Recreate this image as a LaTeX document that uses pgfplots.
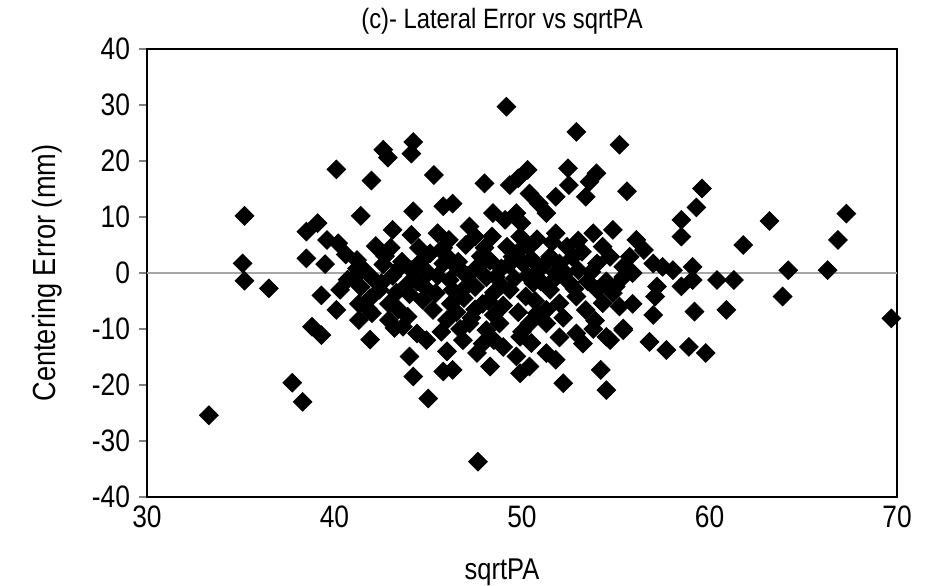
\documentclass[border=0pt]{standalone}
\usepackage{fontspec}
\setmainfont{Liberation Sans}[FakeStretch=0.85]
\usepackage{pgfplots}
\pgfplotsset{compat=1.18}
\begin{document}
\begin{tikzpicture}
\begin{axis}[
  name=ax,
  scale only axis,
  width=375pt, height=224pt,
  xmin=30, xmax=70, ymin=-40, ymax=40,
  xtick={30,40,...,70}, ytick={-40,-30,...,40},
  /pgf/number format/assume math mode=true,
  tick label style={font=\fontsize{15.5}{16}\selectfont},
  xtick style={draw=none},
  ytick align=outside, ytick pos=left,
  major tick length=4pt,
  ytick style={gray, line width=0.6pt},
  xticklabel style={yshift=-1pt},
  yticklabel style={xshift=-1pt},
  axis line style={line width=1.3pt, black},
  clip=false,
]
\draw[gray!70, line width=0.7pt] (axis cs:30,0) -- (axis cs:70,0);
\addplot[only marks, mark=square*, mark size=3.3pt, mark options={rotate=45, fill=black, draw=black}] table {
x y
33.3 -25.4
35.2 10.2
35.1 1.7
35.2 -1.4
36.5 -2.75
37.75 -19.6
38.3 -23.0
38.8 -9.6
39.3 -11.1
39.3 -4.0
40.1 -6.6
41.9 -11.9
41.3 -8.4
40.1 18.5
41.97 16.5
41.4 10.2
42.6 22.0
42.85 20.6
44.2 23.4
44.1 21.3
45.3 17.5
44.2 11.0
45.8 11.9
46.3 12.4
38.5 7.4
39.1 8.9
38.5 2.6
39.5 1.6
39.6 5.9
40.2 5.3
40.6 3.3
43.1 7.7
44.1 6.8
45.5 7.1
46.1 5.9
41.2 2.3
40.7 -1.2
40.3 -3.0
42.0 -7.2
42.9 -8.4
43.65 -9.6
44.4 -10.8
44.9 -12.0
44.0 -14.9
44.2 -18.5
45.8 -17.6
45.0 -22.4
45.1 3.5
45.8 1.7
46.15 -1.25
45.4 -3.6
44.7 -4.8
45.25 -6.6
46.0 -8.4
43.9 -7.8
42.1 -1.2
41.6 0.5
42.6 1.5
43.1 -0.5
42.4 -3.0
41.9 -4.5
43.3 -3.5
42.9 -5.5
41.4 -2.5
43.6 2.0
44.1 0.5
41.0 -1.0
41.2 0.8
43.9 -2.0
42.7 3.0
41.3 -5.5
44.4 -1.5
43.0 4.5
42.2 4.8
49.17 29.7
52.9 25.2
55.2 22.9
48.0 16.0
49.35 15.7
49.8 16.9
50.3 18.4
50.4 14.2
50.9 12.4
51.3 10.7
51.8 13.6
52.45 18.7
52.5 15.7
53.97 17.8
53.6 16.3
53.4 13.6
47.2 8.3
48.45 10.7
49.1 9.5
49.7 10.7
49.97 8.9
48.4 6.5
49.2 4.7
49.9 6.5
50.4 4.7
49.5 2.9
51.8 7.1
52.4 4.7
51.5 2.9
52.0 1.7
53.8 7.1
54.3 4.7
54.85 7.7
54.7 2.9
54.0 1.7
46.6 2.0
47.1 -0.5
47.6 1.0
46.3 -3.0
46.9 -4.5
47.5 -2.5
47.9 -5.5
46.5 -7.0
47.3 -8.0
48.1 -0.8
48.5 -3.5
46.2 -5.5
48.6 -0.7
49.35 -3.0
50.2 -4.2
50.6 -1.8
50.9 0.5
50.05 1.7
51.5 -3.0
52.0 -5.4
51.3 -6.6
52.55 -1.8
52.9 -4.2
53.4 -6.6
54.0 -3.0
54.3 -5.4
55.0 -2.4
47.2 -9.0
48.1 -10.2
48.8 -9.0
47.9 -12.6
49.0 -13.2
46.85 -12.0
47.6 -14.3
48.3 -16.7
49.9 -11.4
50.4 -9.0
50.8 -7.2
51.3 -9.0
49.7 -14.9
49.9 -17.9
50.4 -16.7
51.3 -14.3
51.8 -15.5
52.2 -19.7
52.9 -10.8
53.25 -12.6
54.5 -11.4
54.2 -17.3
54.5 -20.9
46.3 -17.3
46.5 1.1
46.85 -3.0
47.65 -33.7
55.4 -9.9
47.8 3.0
48.3 2.2
48.9 0.8
49.6 -1.0
50.3 -0.5
51.2 1.5
51.7 -1.2
49.0 -5.8
49.8 -7.0
48.5 -7.5
50.7 -5.0
52.3 0.0
53.0 0.5
53.5 -1.5
52.7 2.8
53.2 3.8
48.0 4.5
47.0 5.0
45.0 0.0
44.6 2.0
43.4 -6.5
44.0 -3.8
45.7 -10.5
46.7 -10.0
53.9 -8.5
52.2 -8.0
50.0 -10.5
55.9 -5.5
42.5 -1.8
43.5 1.0
44.8 -2.5
45.5 -0.5
46.0 3.0
46.8 0.3
47.5 -6.5
48.2 -5.0
48.9 -2.2
49.3 1.5
49.8 3.8
50.5 2.5
51.0 -1.5
51.8 0.0
52.8 -2.8
53.7 0.2
54.5 -1.5
51.6 5.5
50.8 6.0
53.0 5.8
47.5 6.5
45.8 4.5
44.5 4.5
41.8 -6.5
43.2 -9.8
46.0 -14.0
48.5 -12.0
50.5 -12.5
52.0 -11.5
53.8 -10.0
55.6 14.6
59.6 15.1
59.3 11.7
58.5 9.5
58.5 6.5
63.2 9.3
61.8 5.0
67.3 10.6
66.85 5.9
64.2 0.5
66.3 0.5
63.9 -4.2
69.7 -8.1
56.1 5.9
56.5 4.1
55.75 2.9
55.4 1.1
57.0 1.7
57.5 1.1
58.05 0.5
59.1 1.1
59.1 -1.25
58.5 -2.4
60.4 -1.25
61.3 -1.25
55.4 -0.7
54.85 -3.6
55.2 -6.0
57.2 -2.4
57.1 -4.2
57.0 -7.5
59.2 -6.9
60.9 -6.6
55.4 -10.2
54.7 -12.0
56.8 -12.3
57.7 -13.75
58.9 -13.2
59.8 -14.3
55.9 0.0
};
\end{axis}
\node[font=\fontsize{14}{15}\selectfont, anchor=base] at ([xshift=-10pt, yshift=10pt]ax.north) {(c)- Lateral Error vs sqrtPA};
\node[font=\fontsize{16}{17}\selectfont, rotate=90] at ([xshift=-50pt]ax.west) {Centering Error (mm)};
\node[font=\fontsize{15}{16}\selectfont] at ([xshift=-10pt, yshift=-37.5pt]ax.south) {sqrtPA};
\pgfresetboundingbox
\path[use as bounding box] ([shift={(-73.5pt,-44.5pt)}]ax.south west) rectangle ([shift={(15pt,24.5pt)}]ax.north east);
\end{tikzpicture}
\end{document}
